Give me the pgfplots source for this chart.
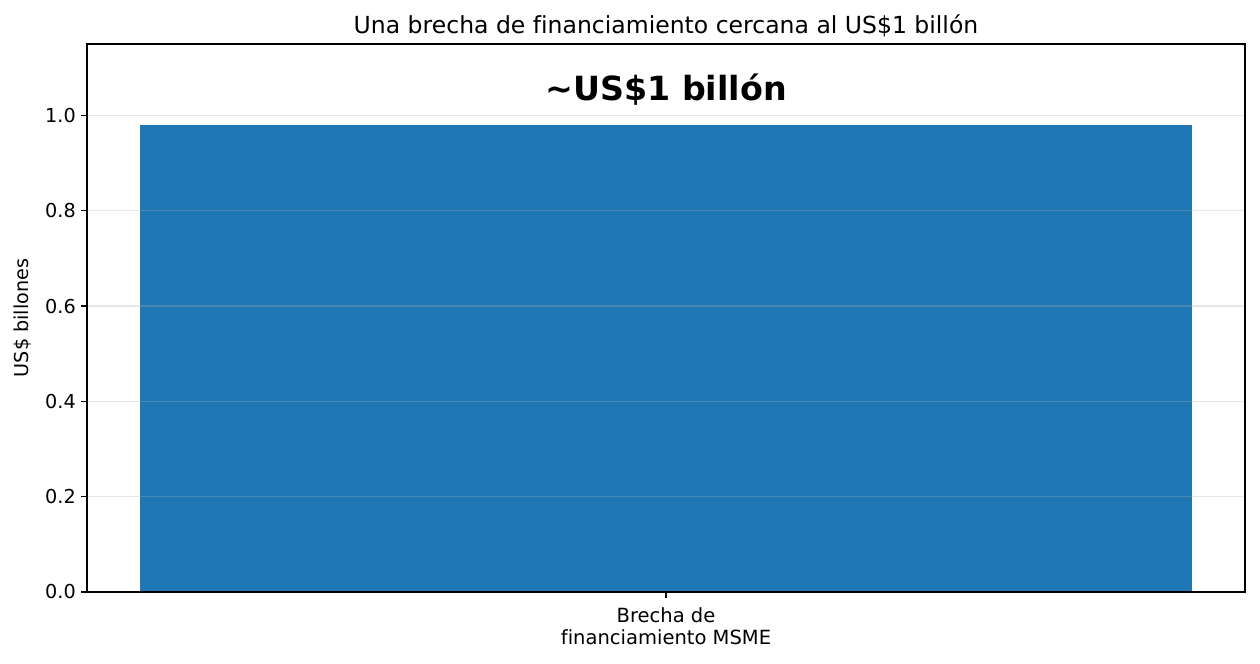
\documentclass[border=0pt]{standalone}
\usepackage{fontspec}
\setmainfont{DejaVu Sans}[Ligatures=NoCommon]
\usepackage{pgfplots}
\pgfplotsset{compat=1.18}
\definecolor{mplblue}{HTML}{1F77B4}
\definecolor{mplgrid}{HTML}{B0B0B0}
\begin{document}
\begin{tikzpicture}
\begin{axis}[
    scale only axis,
    width=723.75pt, height=342.5pt,
    xmin=-0.44, xmax=0.44,
    ymin=0, ymax=1.15,
    axis on top,
    axis line style={line width=0.8pt},
    tick align=outside,
    xtick pos=bottom, ytick pos=left,
    major tick length=3.5pt,
    tick style={line width=0.8pt, black},
    xtick={0},
    xticklabels={{Brecha de\\financiamiento MSME}},
    xticklabel style={align=center, yshift=-3pt, font=\fontsize{12.2}{13.2}\selectfont},
    ytick={0,0.2,0.4,0.6,0.8,1.0},
    yticklabel style={font=\fontsize{12}{13}\selectfont},
    yticklabel style={/pgf/number format/.cd, fixed, fixed zerofill, precision=1, assume math mode=true},
    ymajorgrids,
    grid style={mplgrid, line width=0.8pt, opacity=0.3},
    ylabel={US\$ billones},
    ylabel style={at={(axis description cs:-0.056,0.5)}, anchor=center, font=\fontsize{12}{14}\selectfont},
    title={Una brecha de financiamiento cercana al US\$1 billón},
    title style={at={(axis description cs:0.5,1)}, anchor=base, yshift=0.7pt, font=\fontsize{14.7}{16}\selectfont},
]
\addplot[ybar, bar width=0.8, bar shift=0pt, fill=mplblue, draw=none] coordinates {(0,0.98)};
\node[font=\fontsize{20.8}{24}\selectfont\bfseries, anchor=center] at (axis cs:0,1.055) {\textasciitilde US\$1 billón};
\end{axis}
\pgfresetboundingbox
\path (-54.375pt,-44.375pt) rectangle (733.125pt,370pt);
\end{tikzpicture}
\end{document}
